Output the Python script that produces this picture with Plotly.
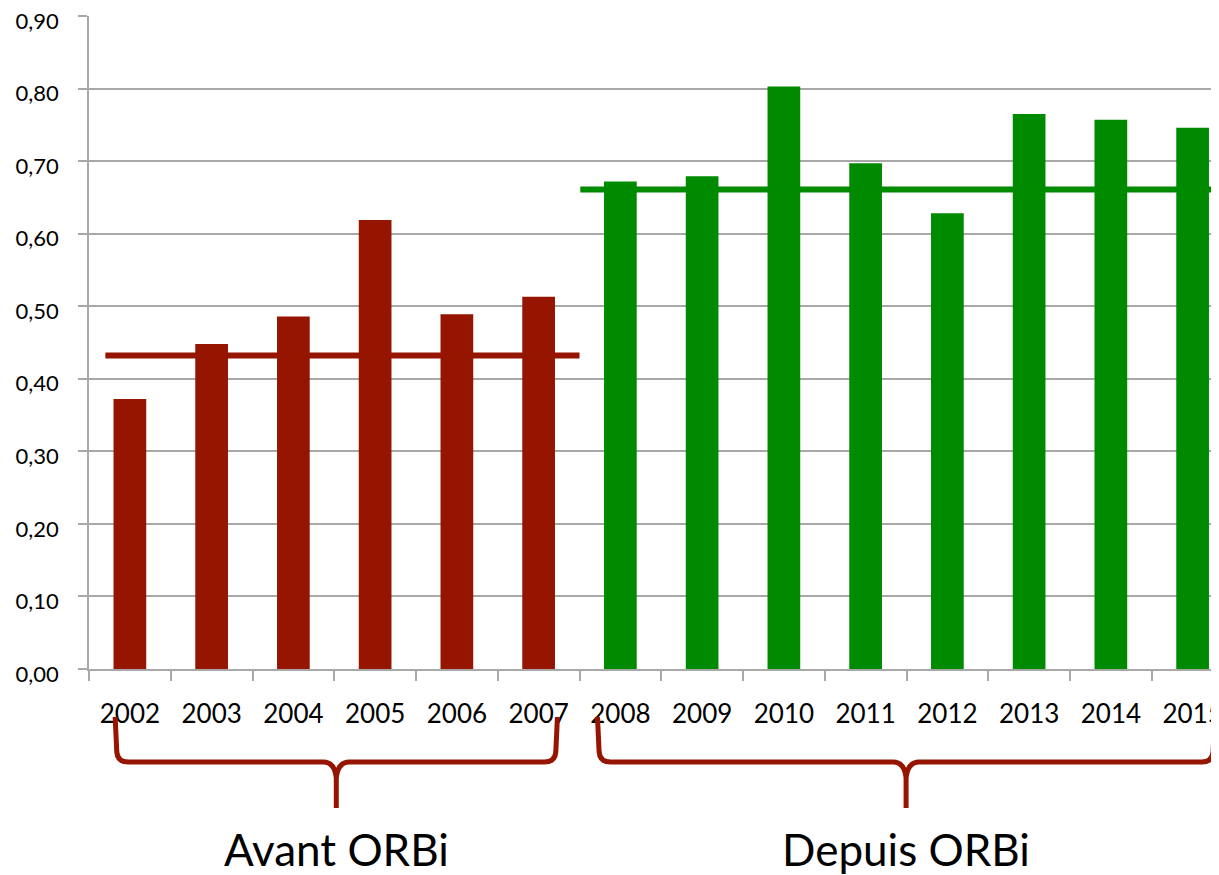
import plotly.graph_objects as go

# data
annees = [2002, 2003, 2004, 2005, 2006, 2007, 2008, 2009, 2010, 2011, 2012, 2013, 2014, 2015]
valeurs = [0.372, 0.448, 0.486, 0.619, 0.489, 0.513,
           0.672, 0.679, 0.803, 0.697, 0.628, 0.765, 0.757, 0.746]
debut_orbi = 2008
moyenne_avant = 0.432
moyenne_depuis = 0.661
y_ticks = [0.0, 0.1, 0.2, 0.3, 0.4, 0.5, 0.6, 0.7, 0.8, 0.9]
etiquettes_groupes = ['Avant ORBi', 'Depuis ORBi']

ROUGE = '#961500'
VERT = '#008a00'
GRIS = '#a8a8a8'

# the page body adds an 8px margin, so the figure is a bit smaller
OFFSET = 8
W, H = 1219 - OFFSET, 875 - OFFSET
M_L, M_R, M_T, M_B = 89 - OFFSET, 0, 16 - OFFSET, 206
plot_h = H - M_T - M_B
plot_bottom = OFFSET + H - M_B
px_per_year = 81.75


def paper_y(pix):
    # page pixel row -> paper coordinate (0 = bottom of plot area)
    return (plot_bottom - pix) / plot_h


avant = [a for a in annees if a < debut_orbi]
depuis = [a for a in annees if a >= debut_orbi]
couleurs = [ROUGE if a < debut_orbi else VERT for a in annees]

fig = go.Figure()
fig.add_trace(go.Bar(
    x=annees, y=valeurs,
    marker=dict(color=couleurs, line=dict(width=0)),
    width=0.4,
    showlegend=False,
    hoverinfo='x+y',
))

# group average lines
fig.add_trace(go.Scatter(
    x=[avant[0] - 0.3, avant[-1] + 0.5], y=[moyenne_avant] * 2,
    mode='lines', line=dict(color=ROUGE, width=6), showlegend=False,
))
fig.add_trace(go.Scatter(
    x=[depuis[0] - 0.49, depuis[-1] + 0.6], y=[moyenne_depuis] * 2,
    mode='lines', line=dict(color=VERT, width=6), showlegend=False,
))


def accolade(x0, x1):
    # curly brace below the axis, x in data units, y in paper units
    xm = (x0 + x1) / 2
    dx = 13 / px_per_year
    yt, yb, yp = paper_y(717), paper_y(762), paper_y(808)
    yb1 = paper_y(752)
    ym = paper_y(778)
    return (
        f'M {x0},{yt} L {x0 + 0.02},{yb1} Q {x0 + 0.03},{yb} {x0 + dx},{yb} '
        f'L {xm - dx},{yb} Q {xm - 0.02},{yb} {xm},{ym} L {xm},{yp} '
        f'M {x1},{yt} L {x1 - 0.02},{yb1} Q {x1 - 0.03},{yb} {x1 - dx},{yb} '
        f'L {xm + dx},{yb} Q {xm + 0.02},{yb} {xm},{ym}'
    )


groupes = [(avant[0] - 0.18, avant[-1] + 0.23), (depuis[0] - 0.28, depuis[-1] + 0.27)]
for (g0, g1), texte in zip(groupes, etiquettes_groupes):
    fig.add_shape(
        type='path', path=accolade(g0, g1),
        xref='x', yref='paper',
        line=dict(color=ROUGE, width=5),
        layer='above',
    )
    fig.add_annotation(
        x=(g0 + g1) / 2, y=paper_y(849), xref='x', yref='paper',
        text=texte, showarrow=False,
        font=dict(family='Lato', size=44, color='black'),
        xanchor='center', yanchor='middle',
    )

x_start = annees[0] - 0.5
fig.update_xaxes(
    range=[x_start, x_start + (W - M_L - M_R) / px_per_year],
    tickmode='array', tickvals=annees, ticktext=[str(a) for a in annees],
    ticks='', showgrid=False, zeroline=False,
    showline=True, linecolor=GRIS, linewidth=1.5,
    tickfont=dict(family='Lato', size=26, color='black'),
    ticklabelstandoff=21,
    ticklabeloverflow='allow',
    automargin=False,
    minor=dict(tickvals=[a - 0.5 for a in annees] + [annees[-1] + 0.5],
               ticks='outside', ticklen=10, tickcolor=GRIS, tickwidth=1.5),
)
fig.update_yaxes(
    range=[y_ticks[0], y_ticks[-1]],
    tickmode='array', tickvals=y_ticks, tickformat='.2f',
    showgrid=True, gridcolor=GRIS, gridwidth=1.5,
    zeroline=False,
    showline=True, linecolor=GRIS, linewidth=1.5,
    ticks='outside', ticklen=9, tickcolor=GRIS, tickwidth=1.5,
    tickfont=dict(family='Lato', size=22, color='black'),
    ticklabelstandoff=15,
    ticklabelshift=5,
    ticklabeloverflow='allow',
    automargin=False,
)
fig.update_layout(
    width=W, height=H,
    margin=dict(l=M_L, r=M_R, t=M_T, b=M_B, pad=0),
    plot_bgcolor='white', paper_bgcolor='white',
    separators=', ',
    bargap=0.6,
)

fig.write_html('out.html')
